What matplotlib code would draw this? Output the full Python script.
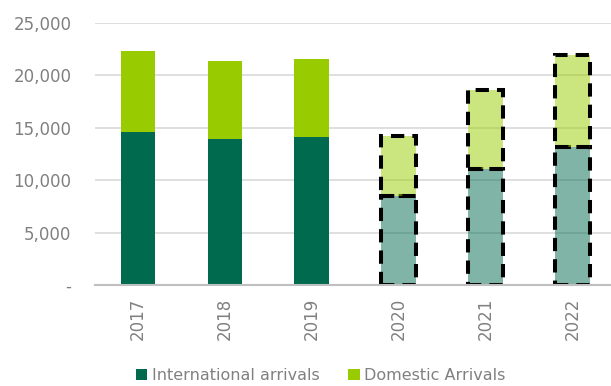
import numpy as np
import matplotlib.pyplot as plt
from matplotlib.patches import Patch

years = ["2017", "2018", "2019", "2020", "2021", "2022"]
international = [14600, 13950, 14150, 8500, 11100, 13150]
domestic = [7700, 7400, 7450, 5700, 7550, 8750]
projected = [False, False, False, True, True, True]

dark_green = "#006A4E"
light_green = "#99CC00"
grey_text = "#808080"

plt.rcParams["font.family"] = ["DejaVu Sans"]

fig = plt.figure(figsize=(6.11, 3.86), dpi=100)
ax = fig.add_axes([95 / 611, 101 / 386, (611 - 95) / 611, 262 / 386])

x = np.arange(len(years))
for i in x:
    if projected[i]:
        # forecast years: half-transparent fill with dashed outline
        style = dict(edgecolor="black", linestyle=(0, (3.3, 2.0)), linewidth=2.9)
        a = 0.5
    else:
        style = dict(edgecolor="none", linewidth=0)
        a = 1.0
    ax.bar(i, international[i], width=0.4, color=dark_green, alpha=None, zorder=3,
           facecolor=(0, 0x6A / 255, 0x4E / 255, a), **style)
    ax.bar(i, domestic[i], width=0.4, bottom=international[i], zorder=3,
           facecolor=(0x99 / 255, 0xCC / 255, 0, a), **style)

ax.set_xlim(-0.494, 5.44)
ax.set_ylim(0, 25000)
ax.set_yticks(range(0, 25001, 5000))
ax.set_yticklabels(["-" if v == 0 else f"{v:,}" for v in range(0, 25001, 5000)])
ax.set_xticks(x)
ax.set_xticklabels(years, rotation=90)
ax.grid(axis="y", color="#D9D9D9", linewidth=1.2, zorder=0)
ax.tick_params(axis="both", length=0, labelsize=12, colors=grey_text)
ax.tick_params(axis="y", pad=17)
ax.tick_params(axis="x", pad=9)
for s in ["top", "right", "left"]:
    ax.spines[s].set_visible(False)
ax.spines["bottom"].set_color("#BFBFBF")
ax.spines["bottom"].set_linewidth(1.5)
ax.spines["bottom"].set_zorder(4)

handles = [Patch(facecolor=dark_green, label="International arrivals"),
           Patch(facecolor=light_green, label="Domestic Arrivals")]
leg = fig.legend(handles=handles, loc="center", bbox_to_anchor=(0.525, 0.028), ncol=2,
                 frameon=False, fontsize=11.5, handlelength=0.7, handleheight=0.7,
                 handletextpad=0.3, columnspacing=1.8)
for t in leg.get_texts():
    t.set_color(grey_text)

fig.savefig("out.png", dpi=100)
